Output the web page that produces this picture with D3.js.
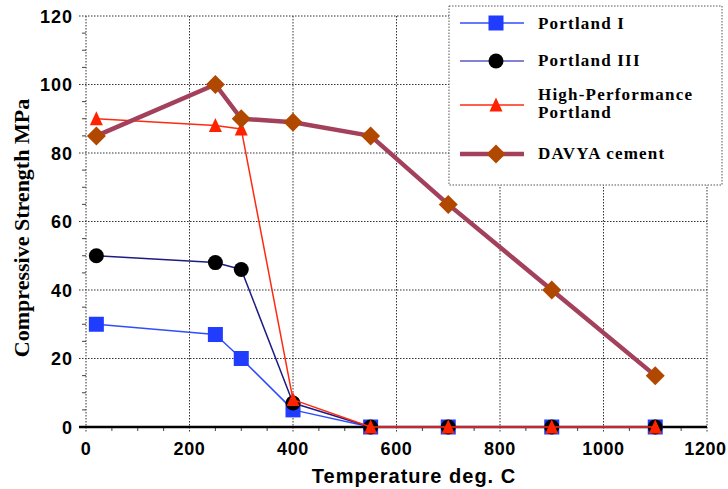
<!DOCTYPE html>
<html><head><meta charset="utf-8">
<script src="https://cdn.jsdelivr.net/npm/d3@7"></script>
<style>body{margin:0;background:#fff}svg{display:block}</style>
</head><body>
<svg id="c" width="728" height="489"></svg>
<script>
const temps = [20, 250, 300, 400, 550, 700, 900, 1100];
const portland1 = [30, 27, 20, 5, 0, 0, 0, 0];
const portland3 = [50, 48, 46, 7, 0, 0, 0, 0];
const highPerf = [90, 88, 87, 8, 0, 0, 0, 0];
const davya = [85, 100, 90, 89, 85, 65, 40, 15];
const xTicks = [0, 200, 400, 600, 800, 1000, 1200];
const yTicks = [0, 20, 40, 60, 80, 100, 120];
const seriesNames = ["Portland I", "Portland III", "High-Performance|Portland", "DAVYA cement"];

const svg = d3.select("#c");
const x = d3.scaleLinear().domain([0, 1200]).range([86, 707]);
const y = d3.scaleLinear().domain([0, 120]).range([427, 16]);

// grid
const g = svg.append("g");
g.selectAll(".vg").data(xTicks.slice(1)).enter().append("line")
  .attr("x1", d => x(d)).attr("x2", d => x(d)).attr("y1", y(120)).attr("y2", y(0) + 5)
  .attr("stroke", "#333").attr("stroke-width", 1).attr("stroke-dasharray", "1.5,1.5");
g.selectAll(".hg").data(yTicks.slice(1)).enter().append("line")
  .attr("x1", x(0) - 7).attr("x2", x(1200)).attr("y1", d => y(d)).attr("y2", d => y(d))
  .attr("stroke", "#333").attr("stroke-width", 1).attr("stroke-dasharray", "1.5,1.5");
// left axis
g.append("line").attr("x1", x(0)).attr("x2", x(0)).attr("y1", y(120)).attr("y2", y(0) + 5)
  .attr("stroke", "#333").attr("stroke-width", 1).attr("stroke-dasharray", "1.5,1.5");
// minor ticks
const yMinor = d3.range(5, 120, 5).filter(v => v % 20 !== 0);
g.selectAll(".ym").data(yMinor).enter().append("line")
  .attr("x1", x(0) - 4).attr("x2", x(0)).attr("y1", d => y(d)).attr("y2", d => y(d))
  .attr("stroke", "#444").attr("stroke-width", 1);
const xMinor = d3.range(50, 1200, 50).filter(v => v % 200 !== 0);
g.selectAll(".xm").data(xMinor).enter().append("line")
  .attr("x1", d => x(d)).attr("x2", d => x(d)).attr("y1", y(0)).attr("y2", y(0) + 4)
  .attr("stroke", "#444").attr("stroke-width", 1);
// zero line
g.append("line").attr("x1", x(0) - 7).attr("x2", x(1200)).attr("y1", y(0)).attr("y2", y(0))
  .attr("stroke", "#000").attr("stroke-width", 2.5);

// tick labels
svg.selectAll(".yl").data(yTicks).enter().append("text")
  .attr("x", 73).attr("y", d => y(d) + 6.5).attr("text-anchor", "end")
  .attr("font-family", "Liberation Sans, Arial, sans-serif").attr("font-weight", "bold")
  .attr("font-size", 18).attr("letter-spacing", 1).text(d => d);
svg.selectAll(".xl").data(xTicks).enter().append("text")
  .attr("x", d => Math.min(x(d), 705.5)).attr("y", 455).attr("text-anchor", "middle")
  .attr("font-family", "Liberation Sans, Arial, sans-serif").attr("font-weight", "bold")
  .attr("font-size", 18).attr("letter-spacing", 0.6).text(d => d);
svg.append("text").attr("x", 414).attr("y", 483).attr("text-anchor", "middle")
  .attr("font-family", "Liberation Sans, Arial, sans-serif").attr("font-weight", "bold")
  .attr("font-size", 20).attr("letter-spacing", 1).text("Temperature deg. C");
svg.append("text").attr("transform", "translate(29,228) rotate(-90)").attr("text-anchor", "middle")
  .attr("font-family", "Liberation Serif, Times New Roman, serif").attr("font-weight", "bold")
  .attr("font-size", 22).text("Compressive Strength MPa");

const line = d3.line().x(d => x(d[0])).y(d => y(d[1]));
const zip = vals => temps.map((t, i) => [t, vals[i]]);

const styles = [
  {vals: portland1, stroke: "#2f4dff", w: 1.5, shape: "square", fill: "#1f3cff", size: 15},
  {vals: portland3, stroke: "#1c1c80", w: 1.5, shape: "circle", fill: "#000", size: 15},
  {vals: highPerf, stroke: "#ff2a10", w: 1.5, shape: "triangle", fill: "#ff2200", size: 13},
  {vals: davya, stroke: "#a3405c", w: 4.5, shape: "diamond", fill: "#b04800", size: 19}
];

function drawMarker(sel, s, cx, cy) {
  const h = s.size / 2;
  if (s.shape === "square") sel.append("rect").attr("x", cx - h).attr("y", cy - h).attr("width", s.size).attr("height", s.size).attr("fill", s.fill);
  else if (s.shape === "circle") sel.append("circle").attr("cx", cx).attr("cy", cy).attr("r", h).attr("fill", s.fill);
  else if (s.shape === "triangle") sel.append("path").attr("d", `M${cx},${cy - h - 1}L${cx + h},${cy + h}L${cx - h},${cy + h}Z`).attr("fill", s.fill);
  else sel.append("path").attr("d", `M${cx},${cy - h}L${cx + h},${cy}L${cx},${cy + h}L${cx - h},${cy}Z`).attr("fill", s.fill);
}

styles.forEach(s => {
  const gs = svg.append("g");
  gs.append("path").datum(zip(s.vals)).attr("d", line).attr("fill", "none")
    .attr("stroke", s.stroke).attr("stroke-width", s.w).attr("stroke-linejoin", "round");
  zip(s.vals).forEach(d => drawMarker(gs, s, x(d[0]), y(d[1])));
});

// legend
const lg = svg.append("g");
lg.append("rect").attr("x", 449).attr("y", 6).attr("width", 273).attr("height", 179)
  .attr("fill", "#fff").attr("stroke", "#555").attr("stroke-dasharray", "1.5,1.5");
const rowY = [23, 61, 105, 154];
const textY = [[29], [66], [100], [159]];
styles.forEach((s, i) => {
  lg.append("line").attr("x1", 460).attr("x2", 524).attr("y1", rowY[i]).attr("y2", rowY[i])
    .attr("stroke", i === 1 ? "#5a5ac8" : s.stroke).attr("stroke-width", s.w);
  drawMarker(lg, s, 496, rowY[i]);
  const parts = seriesNames[i].split("|");
  const t = lg.append("text").attr("font-family", "Liberation Serif, Times New Roman, serif")
    .attr("font-weight", "bold").attr("font-size", 17).attr("letter-spacing", 1.2);
  parts.forEach((p, k) => {
    t.append("tspan").attr("x", 538).attr("y", textY[i][0] + k * 18).text(p);
  });
});
</script>
</body></html>
